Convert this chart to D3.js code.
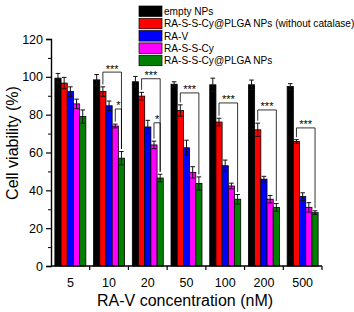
<!DOCTYPE html>
<html>
<head>
<meta charset="utf-8">
<script src="https://cdn.jsdelivr.net/npm/d3@7"></script>
<style>
  body { margin: 0; background: #fff; }
  text { font-family: "Liberation Sans", Arial, sans-serif; fill: #000; }
</style>
</head>
<body>
<div class="container"></div>
<script>
const WIDTH = 354;
const HEIGHT = 312;

// data
var groups = ['5', '10', '20', '50', '100', '200', '500'];
var seriesNames = ['empty NPs', 'RA-S-S-Cy@PLGA NPs (without catalase)', 'RA-V', 'RA-S-S-Cy', 'RA-S-S-Cy@PLGA NPs'];
var seriesColors = ['#000000', '#ff0000', '#0000ff', '#ff00ff', '#008000'];
var emptyNPs = [99.3, 98.4, 97.4, 96.1, 95.8, 95.8, 94.9];
var noCatalase = [96.7, 92.2, 89.8, 82.2, 76.1, 72.0, 65.8];
var raV = [92.2, 84.7, 73.5, 62.5, 53.0, 45.9, 36.7];
var raSSCy = [85.7, 74.0, 64.0, 49.5, 42.3, 35.3, 31.0];
var plgaNPs = [79.0, 57.0, 46.5, 43.6, 35.3, 31.0, 28.2];
var errEmpty = [2.5, 2.8, 2.8, 1.3, 3.5, 2.5, 1.5];
var errNoCat = [3.0, 2.5, 2.0, 3.0, 2.0, 3.5, 1.0];
var errRaV = [2.5, 2.5, 3.5, 4.0, 3.0, 1.5, 2.0];
var errRaSSCy = [2.5, 1.0, 2.0, 3.0, 1.5, 2.0, 2.5];
var errPlga = [3.5, 3.5, 2.0, 3.5, 2.5, 2.0, 1.0];
var yTicks = [0, 20, 40, 60, 80, 100, 120];

// significance brackets: group, from series, to series, label, bracket height (%)
var brackets = [
    {group: '10', from: 1, to: 4, label: '***', level: 102.5},
    {group: '10', from: 3, to: 4, label: '*', level: 83},
    {group: '20', from: 1, to: 4, label: '***', level: 99},
    {group: '20', from: 3, to: 4, label: '*', level: 75.7},
    {group: '50', from: 1, to: 4, label: '***', level: 91.5},
    {group: '100', from: 1, to: 4, label: '***', level: 86.2},
    {group: '200', from: 1, to: 4, label: '***', level: 82.5},
    {group: '500', from: 1, to: 4, label: '***', level: 73}
];

var values = [emptyNPs, noCatalase, raV, raSSCy, plgaNPs];
var errors = [errEmpty, errNoCat, errRaV, errRaSSCy, errPlga];

var _xScale = d3.scaleBand()
    .domain(groups)
    .range([51, 322])
    .paddingInner(0.2)
    .paddingOuter(0.1);

var _subScale = d3.scaleBand()
    .domain(d3.range(seriesNames.length))
    .range([0, _xScale.bandwidth()]);

var _yScale = d3.scaleLinear()
    .domain([0, 120])
    .range([266, 39]);

var _svg = d3.select('.container').append('svg')
    .attr('width', WIDTH)
    .attr('height', HEIGHT);

var barX = function (gi, si) {
    return _xScale(groups[gi]) + _subScale(si);
};

// bars
var cells = [];
values.forEach(function (vals, si) {
    vals.forEach(function (v, gi) {
        cells.push({si: si, gi: gi, v: v, e: errors[si][gi]});
    });
});

_svg.append('g').selectAll('rect')
    .data(cells)
    .enter().append('rect')
    .attr('x', function (d) { return barX(d.gi, d.si); })
    .attr('y', function (d) { return _yScale(d.v); })
    .attr('width', _subScale.bandwidth())
    .attr('height', function (d) { return _yScale(0) - _yScale(d.v); })
    .attr('fill', function (d) { return seriesColors[d.si]; })
    .attr('stroke', '#000')
    .attr('stroke-width', 0.8);

// error bars
var eg = _svg.append('g').attr('stroke', '#111').attr('stroke-width', 1);
cells.forEach(function (d) {
    var cx = barX(d.gi, d.si) + _subScale.bandwidth() / 2;
    var top = _yScale(d.v + d.e);
    var bot = _yScale(d.v - d.e);
    eg.append('line').attr('x1', cx).attr('x2', cx).attr('y1', top).attr('y2', bot);
    eg.append('line').attr('x1', cx - 2.3).attr('x2', cx + 2.3).attr('y1', top).attr('y2', top);
    eg.append('line').attr('x1', cx - 2.3).attr('x2', cx + 2.3).attr('y1', bot).attr('y2', bot);
});

// brackets
var bg = _svg.append('g');
brackets.forEach(function (b) {
    var gi = groups.indexOf(b.group);
    var x1 = barX(gi, b.from) + _subScale.bandwidth() / 2;
    var x2 = barX(gi, b.to) + _subScale.bandwidth() / 2;
    var yTop = _yScale(b.level);
    var y1 = _yScale(values[b.from][gi] + errors[b.from][gi]) - 2.5;
    var y2 = _yScale(values[b.to][gi] + errors[b.to][gi]) - 2.5;
    bg.append('path')
        .attr('d', 'M' + x1 + ',' + y1 + 'V' + yTop + 'H' + x2 + 'V' + y2)
        .attr('fill', 'none')
        .attr('stroke', '#000')
        .attr('stroke-width', 0.8);
    bg.append('text')
        .attr('x', (x1 + x2) / 2)
        .attr('y', yTop + 0.5)
        .attr('text-anchor', 'middle')
        .attr('font-size', 11)
        .text(b.label);
});

// axes
var yAxis = d3.axisLeft(_yScale).tickValues(yTicks).tickSize(5).tickPadding(3);
var yg = _svg.append('g')
    .attr('transform', 'translate(51,0)')
    .call(yAxis);
yg.selectAll('.tick text').attr('font-size', 12.5).attr('font-family', null);
yg.select('.domain').attr('stroke-width', 1.4);
yg.selectAll('.tick line').attr('stroke-width', 1.2);

var yMinor = d3.axisLeft(_yScale).tickValues(d3.range(10, 120, 20)).tickSize(3).tickFormat('');
_svg.append('g').attr('transform', 'translate(51,0)').call(yMinor)
    .select('.domain').remove();

var boundaries = groups.map(function (g) {
    return _xScale(g) + _xScale.bandwidth() + _xScale.step() * _xScale.paddingInner() / 2;
});
var xg = _svg.append('g').attr('transform', 'translate(0,266)');
xg.append('line').attr('x1', 51).attr('x2', 322).attr('stroke', '#000').attr('stroke-width', 1.4);
xg.selectAll('.bt').data(boundaries).enter().append('line')
    .attr('x1', function (d) { return d; })
    .attr('x2', function (d) { return d; })
    .attr('y1', 0).attr('y2', 4)
    .attr('stroke', '#000').attr('stroke-width', 1.2);
xg.selectAll('.lbl').data(groups).enter().append('text')
    .attr('x', function (d) { return _xScale(d) + _xScale.bandwidth() / 2; })
    .attr('y', 21)
    .attr('text-anchor', 'middle')
    .attr('font-size', 12.5)
    .text(function (d) { return d; });

_svg.append('text')
    .attr('x', 185).attr('y', 306)
    .attr('text-anchor', 'middle')
    .attr('font-size', 16)
    .text('RA-V concentration (nM)');

_svg.append('text')
    .attr('transform', 'translate(18,143) rotate(-90)')
    .attr('text-anchor', 'middle')
    .attr('font-size', 16)
    .text('Cell viability (%)');

// legend
var lg = _svg.append('g').attr('transform', 'translate(139,6)');
var rows = lg.selectAll('g').data(seriesNames).enter().append('g')
    .attr('transform', function (d, i) { return 'translate(0,' + (i * 12.3) + ')'; });
rows.append('rect')
    .attr('width', 23).attr('height', 10.5)
    .attr('fill', function (d, i) { return seriesColors[i]; })
    .attr('stroke', '#000').attr('stroke-width', 0.7);
rows.append('text')
    .attr('x', 25).attr('y', 9)
    .attr('font-size', 10.1)
    .text(function (d) { return d; });
</script>
</body>
</html>
